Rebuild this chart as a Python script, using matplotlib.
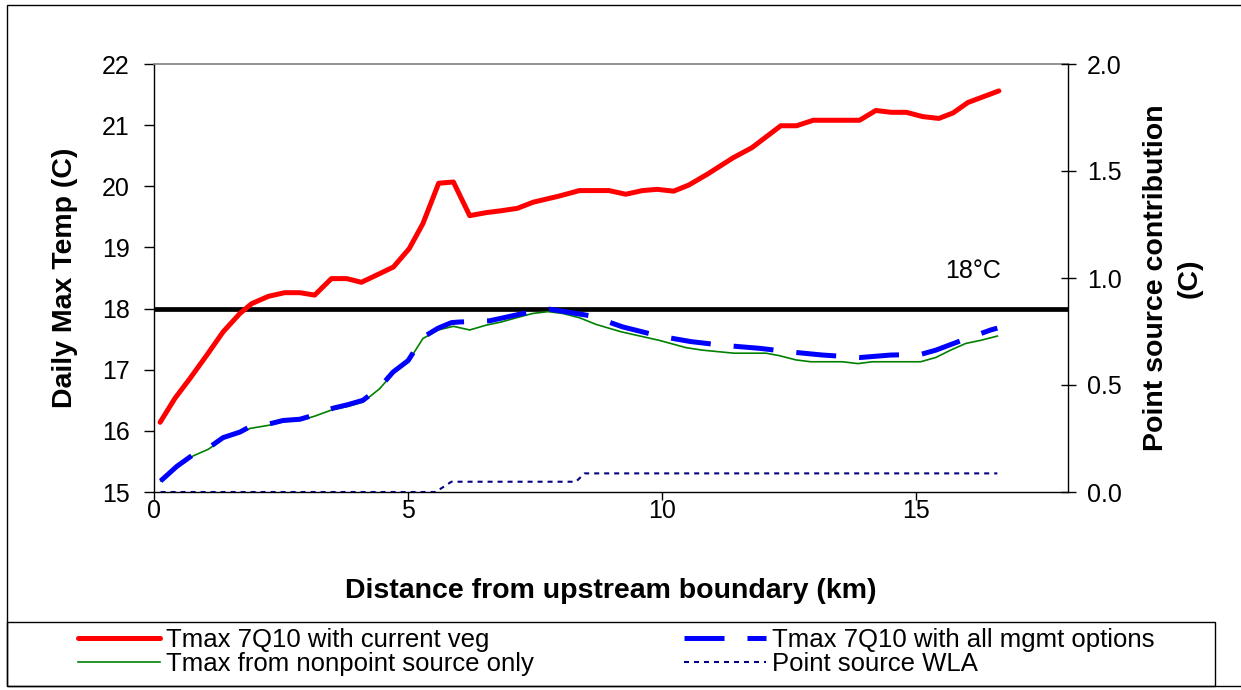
import matplotlib
matplotlib.use('Agg')
import matplotlib.pyplot as plt
from matplotlib.patches import Rectangle

plt.rcParams['font.family'] = ['Liberation Sans', 'DejaVu Sans']

# Tmax 7Q10 with current vegetation
veg_km = [0.13, 0.42, 0.72, 1.05, 1.37, 1.70, 1.93, 2.26, 2.58, 2.88, 3.17, 3.50,
          3.80, 4.09, 4.42, 4.72, 5.03, 5.30, 5.61, 5.90, 6.22, 6.55, 6.84, 7.16,
          7.47, 7.98, 8.38, 8.96, 9.29, 9.62, 9.91, 10.23, 10.53, 10.90, 11.41,
          11.77, 12.34, 12.65, 12.98, 13.89, 14.21, 14.51, 14.81, 15.13, 15.45,
          15.73, 16.02, 16.63]
veg_t = [16.14, 16.53, 16.86, 17.24, 17.62, 17.92, 18.08, 18.20, 18.26, 18.26, 18.22,
         18.49, 18.49, 18.43, 18.56, 18.68, 18.98, 19.39, 20.05, 20.07, 19.52, 19.57,
         19.60, 19.64, 19.74, 19.84, 19.93, 19.93, 19.87, 19.93, 19.95, 19.92, 20.02,
         20.20, 20.47, 20.63, 20.99, 20.99, 21.08, 21.08, 21.24, 21.21, 21.21, 21.14,
         21.11, 21.20, 21.37, 21.56]

# Tmax from nonpoint source only
nps_km = [0.14, 0.46, 0.78, 1.08, 1.37, 1.70, 1.90, 2.26, 2.55, 2.88, 3.17, 3.53,
          3.83, 4.12, 4.45, 4.71, 5.01, 5.30, 5.60, 5.90, 6.22, 6.55, 6.84, 7.14,
          7.46, 7.76, 8.05, 8.38, 8.71, 9.20, 9.95, 10.48, 10.80, 11.42, 12.05,
          12.31, 12.64, 12.93, 13.55, 13.86, 14.14, 15.09, 15.39, 15.68, 15.98,
          16.27, 16.60]
nps_t = [15.18, 15.41, 15.59, 15.70, 15.87, 15.96, 16.04, 16.09, 16.15, 16.17, 16.24,
         16.35, 16.40, 16.47, 16.69, 16.94, 17.13, 17.51, 17.65, 17.71, 17.65, 17.73,
         17.78, 17.85, 17.92, 17.95, 17.92, 17.85, 17.74, 17.62, 17.48, 17.36, 17.32,
         17.27, 17.27, 17.23, 17.16, 17.13, 17.13, 17.10, 17.13, 17.13, 17.20, 17.32,
         17.43, 17.48, 17.55]

# Tmax 7Q10 with all mgmt options
mgmt_km = [0.14, 0.46, 0.78, 1.08, 1.37, 1.70, 1.90, 2.26, 2.55, 2.88, 3.17, 3.53,
           3.83, 4.12, 4.45, 4.71, 5.01, 5.30, 5.60, 5.86, 6.01, 6.61, 7.27, 7.79,
           8.61, 9.23, 9.95, 10.57, 11.19, 11.92, 12.54, 13.16, 13.91, 14.50, 15.09,
           15.39, 15.87, 16.47, 16.60]
mgmt_t = [15.18, 15.42, 15.61, 15.72, 15.89, 15.98, 16.07, 16.11, 16.17, 16.19, 16.26,
          16.37, 16.43, 16.50, 16.71, 16.96, 17.15, 17.53, 17.68, 17.77, 17.78, 17.80,
          17.92, 17.99, 17.88, 17.70, 17.55, 17.46, 17.40, 17.35, 17.29, 17.24, 17.20,
          17.24, 17.25, 17.32, 17.47, 17.65, 17.68]

# Point source WLA (right axis)
wla_km = [0.14, 5.55, 5.86, 8.31, 8.48, 16.60]
wla_c = [0.0, 0.0, 0.048, 0.048, 0.087, 0.087]

criterion = 18
x_ticks = [0, 5, 10, 15]
left_ticks = [15, 16, 17, 18, 19, 20, 21, 22]
right_ticks = [0.0, 0.5, 1.0, 1.5, 2.0]

W, H = 1241, 690
fig = plt.figure(figsize=(W / 100, H / 100), dpi=100)
ax = fig.add_axes([153.5 / W, 1 - 492 / H, 915 / W, 428 / H])
ax2 = ax.twinx()

# 18 C criterion
ax.axhline(criterion, color='black', lw=3.4, zorder=2)
ax.text(15.58, 18.61, '18\u00b0C', fontsize=18, va='center', ha='left')

l_veg, = ax.plot(veg_km, veg_t, color='#ff0000', lw=3.6,
                 solid_capstyle='round', solid_joinstyle='round', zorder=3)
l_nps, = ax.plot(nps_km, nps_t, color='#008000', lw=1.2, zorder=3)
l_mgmt, = ax.plot(mgmt_km, mgmt_t, color='#0000ff', lw=3.6,
                  linestyle=(0, (8, 4.6)), dash_capstyle='butt', zorder=4)
l_wla, = ax2.plot(wla_km, wla_c, color='#000080', lw=1.5,
                  linestyle=(0, (2.4, 2.4)), dash_capstyle='butt')

ax.set_xlim(0, 18)
ax.set_ylim(15, 22)
ax.set_xticks(x_ticks)
ax.set_yticks(left_ticks)
ax2.set_ylim(0, 2)
ax2.set_yticks(right_ticks)
ax2.set_yticklabels(['%.1f' % v for v in right_ticks])

# spines
ax.spines['top'].set_color('#808080')
ax.spines['top'].set_linewidth(1.2)
ax.spines['right'].set_visible(False)
for s in ['top', 'left', 'bottom']:
    ax2.spines[s].set_visible(False)
for s in ['left', 'bottom']:
    ax.spines[s].set_linewidth(1.0)
ax2.spines['right'].set_linewidth(1.0)

ax.tick_params(axis='y', direction='out', length=7.2, width=1, labelsize=18, pad=10)
ax.tick_params(axis='x', direction='out', length=5.8, width=1, labelsize=18, pad=-1)
ax2.tick_params(axis='y', direction='inout', length=10.8, width=1, labelsize=18, pad=8)

ax.set_xlabel('Distance from upstream boundary (km)', fontsize=20.5, fontweight='bold')
ax.xaxis.label.set_va('center')
ax.xaxis.set_label_coords(0.5, (492 - 591) / 428)
ax.set_ylabel('Daily Max Temp (C)', fontsize=20.5, fontweight='bold')
ax.yaxis.label.set_va('center')
ax.yaxis.set_label_coords((65 - 153.5) / 915, 0.5)
ax2.set_ylabel('Point source contribution\n(C)', fontsize=20.5, fontweight='bold',
               rotation=90, linespacing=1.35)
ax2.yaxis.label.set_va('center')
ax2.yaxis.label.set_ha('center')
ax2.yaxis.set_label_coords((1173 - 153.5) / 915, 0.5)

# chart border and legend box
fig.patches.append(Rectangle((7 / W, 4 / H), 1.0, (686 - 5) / H, transform=fig.transFigure,
                             fill=False, edgecolor='black', lw=1.0))
fig.patches.append(Rectangle((7 / W, 4 / H), (1215 - 7) / W, (686 - 622) / H,
                             transform=fig.transFigure, fill=False,
                             edgecolor='black', lw=1.0))

leg_kw = dict(loc='upper left', frameon=False, borderpad=0, borderaxespad=0,
              handlelength=82 / 25.7, handletextpad=6 / 25.7, labelspacing=0.0,
              fontsize=18.5)
fig.legend([l_veg, l_nps], ['Tmax 7Q10 with current veg', 'Tmax from nonpoint source only'],
           bbox_to_anchor=(78 / W, 1 - 628 / H), **leg_kw)
fig.legend([l_mgmt, l_wla], ['Tmax 7Q10 with all mgmt options', 'Point source WLA'],
           bbox_to_anchor=(684 / W, 1 - 628 / H), **leg_kw)

fig.savefig('out.png', dpi=100)
